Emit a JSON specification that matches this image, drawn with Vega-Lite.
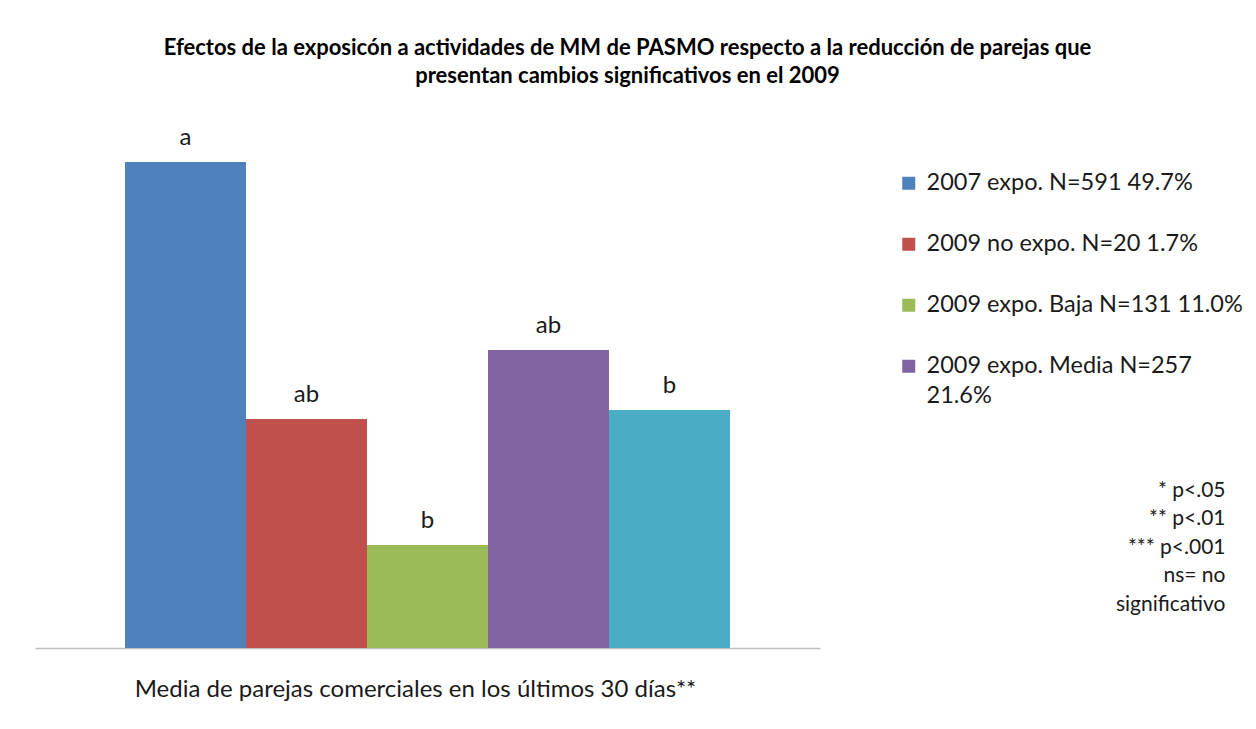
{
  "$schema": "https://vega.github.io/schema/vega-lite/v6.json",
  "width": 785,
  "height": 548,
  "autosize": "none",
  "padding": {"left": 35, "top": 100, "right": 436, "bottom": 81},
  "background": "white",
  "title": {
    "text": ["Efectos de la exposicón a actividades de MM de PASMO respecto a la reducción de parejas que", "presentan cambios significativos en el 2009"],
    "anchor": "middle",
    "frame": "group",
    "dx": 200,
    "offset": 12,
    "font": "Lato",
    "fontSize": 22,
    "fontWeight": "bold",
    "lineHeight": 28,
    "color": "#000000"
  },
  "config": {"view": {"stroke": null}, "font": "Lato"},
  "data": {
    "values": [
      {"grupo": "2007 expo. N=591 49.7%", "media": 4.86, "letra": "a"},
      {"grupo": "2009 no expo. N=20 1.7%", "media": 2.29, "letra": "ab"},
      {"grupo": "2009 expo. Baja N=131 11.0%", "media": 1.03, "letra": "b"},
      {"grupo": "2009 expo. Media N=257 21.6%", "media": 2.98, "letra": "ab"},
      {"grupo": "2009 expo. Alta", "media": 2.38, "letra": "b"}
    ]
  },
  "encoding": {
    "x": {
      "field": "grupo",
      "type": "nominal",
      "sort": null,
      "scale": {"paddingInner": 0, "paddingOuter": 0.744},
      "axis": {
        "labels": false,
        "ticks": false,
        "domainColor": "#bfbfbf",
        "domainWidth": 1.5,
        "title": "Media de parejas comerciales en los últimos 30 días**",
        "titleFont": "Lato",
        "titleFontSize": 24,
        "titleFontWeight": "normal",
        "titleColor": "#1a1a1a",
        "titleX": 380,
        "titlePadding": 29
      }
    },
    "y": {
      "field": "media",
      "type": "quantitative",
      "scale": {"domain": [0, 5.48]},
      "axis": {
        "orient": "right",
        "labels": false,
        "ticks": false,
        "domain": false,
        "grid": false,
        "title": ["* p<.05", "** p<.01", "*** p<.001", "ns= no", "significativo"],
        "titleAngle": 0,
        "titleAlign": "right",
        "titleBaseline": "alphabetic",
        "titleX": 405,
        "titleY": 396,
        "titleLineHeight": 28.5,
        "titleFont": "Lato",
        "titleFontSize": 21,
        "titleFontWeight": "normal",
        "titleColor": "#1a1a1a"
      }
    }
  },
  "layer": [
    {
      "mark": {"type": "bar"},
      "encoding": {
        "color": {
          "field": "grupo",
          "type": "nominal",
          "sort": null,
          "scale": {
            "domain": ["2007 expo. N=591 49.7%", "2009 no expo. N=20 1.7%", "2009 expo. Baja N=131 11.0%", "2009 expo. Media N=257 21.6%", "2009 expo. Alta"],
            "range": ["#4F81BD", "#C0504D", "#9BBB59", "#8064A2", "#4BACC6"]
          },
          "legend": {
            "orient": "none",
            "legendX": 862,
            "legendY": 78,
            "title": null,
            "values": ["2007 expo. N=591 49.7%", "2009 no expo. N=20 1.7%", "2009 expo. Baja N=131 11.0%", "2009 expo. Media N=257 21.6%"],
            "symbolType": "M-1,-2H1V0H-1Z",
            "symbolSize": 169,
            "symbolStrokeWidth": 0,
            "labelFont": "Lato",
            "labelFontSize": 23.5,
            "labelColor": "#1a1a1a",
            "labelLimit": 400,
            "labelOffset": 6,
            "labelBaseline": "alphabetic",
            "labelExpr": "datum.label == '2009 expo. Media N=257 21.6%' ? ['2009 expo. Media N=257', '21.6%'] : datum.label",
            "rowPadding": 36,
            "padding": 0,
            "encode": {"labels": {"update": {"lineHeight": {"value": 30}}}}
          }
        }
      }
    },
    {
      "mark": {"type": "text", "baseline": "alphabetic", "dy": -17, "fontSize": 24, "font": "Lato", "color": "#1a1a1a"},
      "encoding": {"text": {"field": "letra"}}
    }
  ]
}
